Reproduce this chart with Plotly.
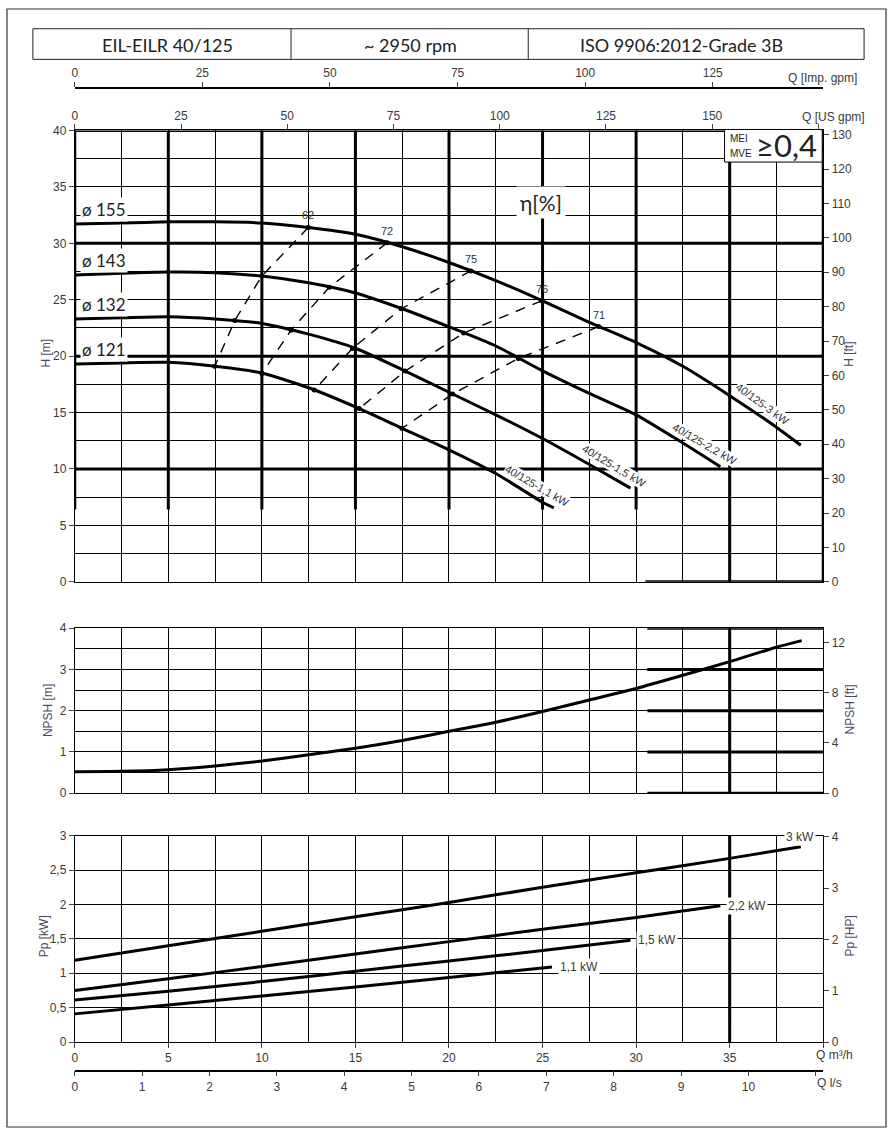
import plotly.graph_objects as go

# ---------------- data ----------------
# H-Q curves per impeller diameter (Q in m3/h, H in m)
DIAMETERS = ["155", "143", "132", "121"]
Q_155 = [0, 2.5, 5, 7.5, 10, 12.5, 15, 17.5, 20, 22.5, 25, 27.5, 30, 32.5, 35, 37.5, 38.8]
H_155 = [31.7, 31.8, 31.9, 31.9, 31.8, 31.4, 30.8, 29.7, 28.3, 26.7, 24.9, 23.0, 21.2, 19.1, 16.5, 13.7, 12.1]
Q_143 = [0, 2.5, 5, 7.5, 10, 12.5, 15, 17.5, 20, 22.5, 25, 27.5, 30, 32.5, 34.5]
H_143 = [27.2, 27.35, 27.45, 27.4, 27.1, 26.5, 25.6, 24.2, 22.6, 20.9, 18.7, 16.7, 14.8, 12.3, 10.2]
Q_132 = [0, 2.5, 5, 7.5, 10, 12.5, 15, 17.5, 20, 22.5, 25, 27.5, 29.7]
H_132 = [23.3, 23.4, 23.5, 23.3, 22.9, 21.95, 20.7, 18.8, 16.8, 14.8, 12.7, 10.4, 8.3]
Q_121 = [0, 2.5, 5, 7.5, 10, 12.5, 15, 17.5, 20, 22.5, 25, 25.6]
H_121 = [19.3, 19.4, 19.45, 19.1, 18.5, 17.2, 15.5, 13.6, 11.7, 9.6, 7.05, 6.55]
MOTOR_LABELS = ["40/125-3 kW", "40/125-2,2 kW", "40/125-1,5 kW", "40/125-1,1 kW"]

# efficiency iso-lines (crossing points on the 155/143/132/121 curves)
ETA_LEVELS = ["62", "72", "75", "76", "71"]
ETA62_Q = [12.48, 10.0, 8.55, 7.48]
ETA62_H = [31.4, 27.1, 23.15, 19.1]
ETA72_Q = [16.7, 13.6, 11.56, 10.0]
ETA72_H = [30.05, 26.1, 22.3, 18.47]
ETA75_Q = [21.17, 17.45, 14.84, 12.8]
ETA75_H = [27.55, 24.2, 20.68, 17.0]
ETA76_Q = [24.95, 20.78, 17.66, 15.2]
ETA76_H = [24.9, 22.05, 18.68, 15.35]
ETA71_Q = [28.0, 23.7, 20.2, 17.48]
ETA71_H = [22.62, 19.8, 16.64, 13.6]

# NPSH curve
Q_NPSH = [0, 2.5, 5, 7.5, 10, 12.5, 15, 17.5, 20, 22.5, 25, 27.5, 30, 32.5, 35, 37.5, 38.85]
NPSH = [0.52, 0.53, 0.57, 0.66, 0.78, 0.93, 1.09, 1.28, 1.50, 1.72, 1.98, 2.26, 2.54, 2.86, 3.19, 3.54, 3.70]

# shaft power curves (kW)
POWER_LABELS = ["3 kW", "2,2 kW", "1,5 kW", "1,1 kW"]
PQ_30 = [0, 5, 10, 15, 20, 25, 30, 35, 38.8]
P_30 = [1.19, 1.40, 1.61, 1.82, 2.03, 2.25, 2.46, 2.67, 2.84]
PQ_22 = [0, 5, 10, 15, 20, 25, 30, 34.5]
P_22 = [0.75, 0.92, 1.10, 1.28, 1.46, 1.64, 1.81, 1.98]
PQ_15 = [0, 5, 10, 15, 20, 25, 29.7]
P_15 = [0.61, 0.74, 0.88, 1.03, 1.18, 1.33, 1.48]
PQ_11 = [0, 5, 10, 15, 20, 25.5]
P_11 = [0.41, 0.54, 0.67, 0.80, 0.94, 1.09]

HEADER = ["EIL-EILR 40/125", "~ 2950 rpm", "ISO 9906:2012-Grade 3B"]

# unit conversions for the secondary scales
Q_MAX = 40
TO_USGPM = 4.40287
TO_IMPGPM = 3.66615
TO_LS = 1 / 3.6
TO_FT = 3.28084
TO_HP = 1 / 0.7457

# ---------------- layout helpers ----------------
W, HT = 891, 1136


def px_x(v):
    return v / W


def px_y(v):
    return 1 - v / HT


XDOM = [px_x(72), px_x(823)]
TOP = [px_y(582), px_y(125)]
MID = [px_y(796), px_y(629)]
BOT = [px_y(1048), px_y(839)]

INK = "black"
SANS = "Liberation Sans, Arial, sans-serif"
TICKFONT = dict(family=SANS, size=12, color="#3a3a3a")
TITLEFONT = dict(family=SANS, size=12, color="#4a4a5e")
THIN, THICK = 1, 3

fig = go.Figure()


def add_line(q, v, xa, ya, width=3):
    fig.add_trace(go.Scatter(x=q, y=v, xaxis=xa, yaxis=ya, mode="lines",
                             line=dict(color=INK, width=width, shape="spline", smoothing=0.6),
                             hoverinfo="skip", showlegend=False))


hq = [(Q_155, H_155), (Q_143, H_143), (Q_132, H_132), (Q_121, H_121)]
for q, h in hq:
    add_line(q, h, "x", "y")

etas = [(ETA62_Q, ETA62_H), (ETA72_Q, ETA72_H), (ETA75_Q, ETA75_H),
        (ETA76_Q, ETA76_H), (ETA71_Q, ETA71_H)]
for q, h in etas:
    fig.add_trace(go.Scatter(x=q, y=h, xaxis="x", yaxis="y", mode="lines+markers",
                             line=dict(color=INK, width=1.4, dash="10px,8px"),
                             marker=dict(color=INK, size=5),
                             hoverinfo="skip", showlegend=False))

add_line(Q_NPSH, NPSH, "x4", "y3")

pw = [(PQ_30, P_30), (PQ_22, P_22), (PQ_15, P_15), (PQ_11, P_11)]
for q, p in pw:
    add_line(q, p, "x5", "y5")

# empty traces so the secondary scales are always drawn
for xa, ya in [("x2", "y2"), ("x3", "y"), ("x4", "y4"), ("x6", "y6")]:
    fig.add_trace(go.Scatter(x=[], y=[], xaxis=xa, yaxis=ya, showlegend=False, hoverinfo="skip"))

grid = dict(showgrid=True, gridcolor=INK, gridwidth=THIN, zeroline=False)
frame = dict(showline=True, linecolor=INK, linewidth=THIN, mirror=True)
ticks = dict(ticks="outside", ticklen=5, tickcolor="#444", tickwidth=1, tickfont=TICKFONT)
minor_q = dict(dtick=2.5, tick0=0, showgrid=True, gridcolor=INK, gridwidth=THIN)

plain_x = dict(domain=XDOM, range=[0, Q_MAX], showticklabels=False, ticks="", dtick=2.5, tick0=0,
               **grid, **frame)

us_vals = list(range(0, 176, 25))
ls_vals = list(range(0, 12))
kw_vals = list(range(0, 41, 5))

fig.update_layout(
    width=W, height=HT, autosize=False,
    margin=dict(l=0, r=0, t=0, b=0),
    paper_bgcolor="white", plot_bgcolor="rgba(0,0,0,0)",
    separators=", ",
    showlegend=False,
    xaxis=dict(plain_x, anchor="y"),
    yaxis=dict(domain=TOP, range=[0, 40], anchor="x", dtick=5, minor=dict(minor_q), **ticks, **grid, **frame),
    yaxis2=dict(overlaying="y", side="right", anchor="x", range=[0, 40 * TO_FT], dtick=10,
                showgrid=False, zeroline=False, **ticks),
    xaxis2=dict(overlaying="x", side="top", anchor="y", range=[0, Q_MAX * TO_USGPM],
                tickvals=us_vals, ticktext=[str(v) for v in us_vals[:-1]] + [""],
                showgrid=False, zeroline=False, **ticks),
    xaxis3=dict(overlaying="x", side="top", anchor="free", position=px_y(82),
                range=[0, Q_MAX * TO_IMPGPM], dtick=25, showgrid=False, zeroline=False,
                showline=True, linecolor=INK, linewidth=1.5, **ticks),
    xaxis4=dict(plain_x, anchor="y3"),
    yaxis3=dict(domain=MID, range=[0, 4], anchor="x4", dtick=1,
                minor=dict(minor_q, dtick=0.5), **ticks, **grid, **frame),
    yaxis4=dict(overlaying="y3", side="right", anchor="x4", range=[0, 4 * TO_FT],
                tickvals=[0, 4, 8, 12], showgrid=False, zeroline=False, **ticks),
    xaxis5=dict(domain=XDOM, range=[0, Q_MAX], anchor="y5",
                tickvals=kw_vals, ticktext=[str(v) for v in kw_vals[:-1]] + [""],
                minor=dict(minor_q, ticks=""), **ticks, **grid, **frame),
    yaxis5=dict(domain=BOT, range=[0, 3], anchor="x5", dtick=0.5, **ticks, **grid, **frame),
    yaxis6=dict(overlaying="y5", side="right", anchor="x5", range=[0, 3 * TO_HP], dtick=1,
                showgrid=False, zeroline=False, **ticks),
    xaxis6=dict(overlaying="x5", side="bottom", anchor="free", position=px_y(1077),
                range=[0, Q_MAX * TO_LS], tickvals=ls_vals,
                ticktext=[str(v) for v in ls_vals[:-1]] + [""],
                showgrid=False, zeroline=False, showline=True, linecolor=INK, linewidth=1.5, **ticks),
)

# ---------------- heavy grid segments ----------------
thick = dict(color=INK, width=THICK)
for q in range(0, 31, 5):
    fig.add_shape(type="line", xref="x", yref="y", x0=q, x1=q, y0=6.4, y1=40, line=thick, layer="below")
for q in (35, 40):
    fig.add_shape(type="line", xref="x", yref="y", x0=q, x1=q, y0=0, y1=40, line=thick, layer="below")
for h in (10, 20, 30, 40):
    fig.add_shape(type="line", xref="x", yref="y", x0=0, x1=40, y0=h, y1=h, line=thick, layer="below")
fig.add_shape(type="line", xref="x", yref="y", x0=30.5, x1=40, y0=0, y1=0, line=thick, layer="below")

for h in range(0, 5):
    fig.add_shape(type="line", xref="x4", yref="y3", x0=30.6, x1=40, y0=h, y1=h, line=thick, layer="below")
fig.add_shape(type="line", xref="x4", yref="y3", x0=35, x1=35, y0=0, y1=4, line=thick, layer="below")
fig.add_shape(type="line", xref="x5", yref="y5", x0=35, x1=35, y0=0, y1=3, line=thick, layer="below")

# ---------------- frames ----------------
fig.add_shape(type="rect", xref="paper", yref="paper", x0=px_x(4), x1=px_x(886), y0=px_y(1134), y1=px_y(2),
              line=dict(color="#333", width=1.2))
fig.add_shape(type="rect", xref="paper", yref="paper", x0=px_x(30), x1=px_x(864), y0=px_y(53), y1=px_y(22),
              line=dict(color="#222", width=1))
for xd in (289, 527):
    fig.add_shape(type="line", xref="paper", yref="paper", x0=px_x(xd), x1=px_x(xd), y0=px_y(53), y1=px_y(22),
                  line=dict(color="#222", width=1))
fig.add_shape(type="rect", xref="paper", yref="paper", x0=px_x(724), x1=px_x(822), y0=px_y(157), y1=px_y(124),
              line=dict(color=INK, width=1), fillcolor="white", layer="above")

# ---------------- texts ----------------
ann = []


def paper_text(txt, cx, cy, font, xanchor="center", angle=0):
    ann.append(dict(text=txt, xref="paper", yref="paper", x=px_x(cx), y=px_y(cy), xanchor=xanchor,
                    yanchor="middle", textangle=angle, showarrow=False, font=font))


HFONT = dict(family="Lato, Open Sans, sans-serif", size=18, color="#222")
for txt, cx in zip(HEADER, (165, 409, 681)):
    paper_text(txt, cx, 38, HFONT)

for name, (q, h) in zip(DIAMETERS, hq):
    ann.append(dict(text="ø " + name, xref="x", yref="y", x=0.3, y=h[0] + 1.3, xanchor="left",
                    yanchor="middle", showarrow=False, bgcolor="white", borderpad=1,
                    font=dict(family="Lato, Open Sans, sans-serif", size=17, color="#222")))

ann.append(dict(text="η[%]", xref="x", yref="y", x=24.9, y=33.6, showarrow=False, bgcolor="white",
                xanchor="center", yanchor="middle", borderpad=3,
                font=dict(family="Lato, Open Sans, sans-serif", size=21, color="#222")))

for lvl, (q, h) in zip(ETA_LEVELS, etas):
    ann.append(dict(text=lvl, xref="x", yref="y", x=q[0], y=h[0], yshift=12, showarrow=False,
                    xanchor="center", yanchor="middle",
                    font=dict(family=SANS, size=11, color="#333")))

MOTOR_POS = [(36.76, 15.75, 36), (33.67, 12.25, 30), (28.83, 10.24, 31), (24.73, 8.49, 30)]
for txt, (mq, mh, ang) in zip(MOTOR_LABELS, MOTOR_POS):
    ann.append(dict(text=txt, xref="x", yref="y", x=mq, y=mh, textangle=ang, showarrow=False,
                    xanchor="center", yanchor="middle", bgcolor="white", borderpad=0,
                    font=dict(family=SANS, size=11, color="#333")))

for i, (txt, (q, p)) in enumerate(zip(POWER_LABELS, pw)):
    if i == 0:
        ann.append(dict(text=txt, xref="x5", yref="y5", x=q[-1] - 0.05, y=2.985, showarrow=False,
                        xanchor="center", yanchor="middle", bgcolor="white", borderpad=1, font=TICKFONT))
    else:
        ann.append(dict(text=txt, xref="x5", yref="y5", x=q[-1] + 0.3, y=p[-1], xanchor="left",
                        yanchor="middle", showarrow=False, bgcolor="white", borderpad=1, font=TICKFONT))

# MEI badge
SMALL = dict(family=SANS, size=10, color="#222")
paper_text("MEI", 727, 133, SMALL, xanchor="left")
paper_text("MVE", 727, 148, SMALL, xanchor="left")
paper_text("≥0,4", 819, 140, dict(family="Lato, Open Sans, sans-serif", size=31, color="#222"), xanchor="right")

# axis names
for txt, cx, cy in [("Q [Imp. gpm]", 822, 72), ("Q [US gpm]", 833, 111),
                    ("Q m³/h", 834, 1061), ("Q l/s", 829, 1089)]:
    paper_text(txt, cx, cy, TICKFONT)
for txt, cx, cy in [("H [m]", 43, 350), ("NPSH [m]", 45, 712), ("Pp [kW]", 42, 941),
                    ("H [ft]", 849, 352), ("NPSH [ft]", 850, 711), ("Pp [HP]", 850, 941)]:
    paper_text(txt, cx, cy, TITLEFONT, angle=-90)

fig.update_layout(annotations=ann)

fig.write_html(
    "out.html",
    config={"displayModeBar": False},
    post_script="document.body.style.margin='0px';"
                "document.documentElement.style.overflow='hidden';"
                "document.body.style.overflow='hidden';",
)
